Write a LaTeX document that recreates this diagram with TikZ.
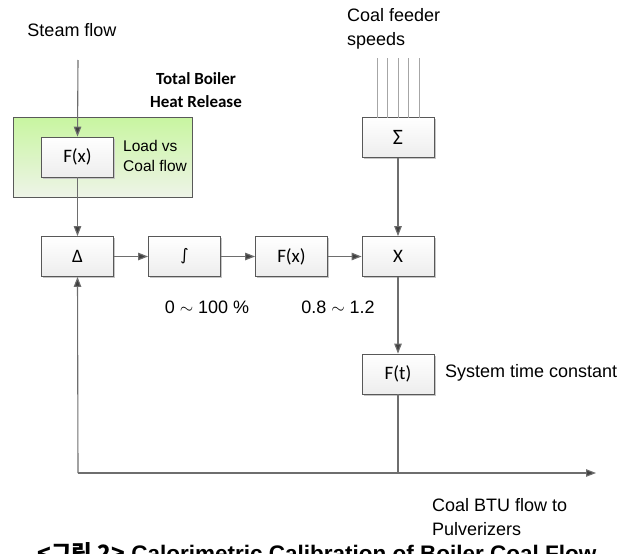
\documentclass[tikz,border=0pt]{standalone}
\usepackage{fontspec}
\setmainfont{Liberation Sans}
\newfontfamily\boxfont{Carlito}
\newfontfamily\krfont{Noto Sans CJK KR}
\usetikzlibrary{arrows.meta,shadows}
\definecolor{lineg}{HTML}{6E6E6E}
\definecolor{arrg}{HTML}{404040}
\tikzset{
  px/.style={x=1pt,y=-1pt},
  blk/.style={draw=lineg!80!black, line width=0.8pt, minimum width=72pt, minimum height=40pt,
    top color=white, bottom color=gray!14, inner sep=0pt,
    drop shadow={shadow xshift=1.5pt, shadow yshift=-1.5pt, fill=gray!45, opacity=1},
    font=\boxfont\fontsize{19}{21}\selectfont},
  lbl/.style={font=\fontsize{18}{24.5}\selectfont, align=left, inner sep=0pt, anchor=west},
  conn/.style={draw=lineg, line width=1.1pt, -{Triangle[length=10pt,width=7.5pt,fill=arrg]}},
  plain/.style={draw=lineg, line width=1.1pt},
  feed/.style={draw=gray!70, line width=0.7pt},
}
\begin{document}
\begin{tikzpicture}[px]
\useasboundingbox (0,0) rectangle (635,554);
\clip (0,0) rectangle (635,554);
% green group
\node[draw=gray!70!black, line width=0.6pt, top color={rgb,255:red,200;green,245;blue,160}, bottom color={rgb,255:red,238;green,244;blue,232},
  minimum width=179pt, minimum height=80pt, inner sep=0pt] (grp) at (102.5,157) {};
% texts
\node[lbl, anchor=center] (steam) at (72,30) {Steam flow};
\node[font=\boxfont\bfseries\fontsize{17}{23}\selectfont, align=center, inner sep=0pt] (tbhr) at (196,90) {Total Boiler\\Heat Release};
\node[lbl, anchor=north west] (cfs) at (347,8) {Coal feeder\\speeds};
% blocks
\node[blk] (fx1) at (77.5,157) {F(x)};
\node[lbl, font=\fontsize{15.5}{20}\selectfont] (load) at (123,156) {Load vs\\Coal flow};
\node[blk] (delta) at (77.5,256.5) {Δ};
\node[blk] (integ) at (184.5,256.5) {\fontspec{DejaVu Sans}\fontsize{16}{18}\selectfont ∫};
\node[blk] (fx2) at (291.5,256.5) {F(x)};
\node[blk] (mult) at (398,256.5) {X};
\node[blk, font=\boxfont\fontsize{22}{24}\selectfont] (sigma) at (398,137.5) {Σ};
\node[blk] (ft) at (398,374) {F(t)};
\node[lbl] (stc) at (445,373) {System time constant};
\node[lbl, anchor=center] (r1) at (207,307) {0 $\sim$ 100 \%};
\node[lbl, anchor=center] (r2) at (338,307) {0.8 $\sim$ 1.2};
\node[lbl, anchor=north west] (btu) at (432,498) {Coal BTU flow to\\Pulverizers};
% coordinates
\coordinate (steamtop) at (78,60);
\coordinate (corner) at (78,473);
\coordinate (junc) at (398,473);
\coordinate (outend) at (596,473);
% connectors
\draw[conn] (steamtop) -- (fx1.north);
\draw[conn] (fx1.south) -- (delta.north);
\draw[conn] (delta) -- (integ);
\draw[conn] (integ) -- (fx2);
\draw[conn] (fx2) -- (mult);
\draw[conn] (sigma.south) -- (mult.north);
\draw[conn] (mult.south) -- (ft.north);
\draw[plain] (ft.south) -- (junc);
\draw[conn] (corner) -- (delta.south);
\draw[conn] (corner) -- (outend);
% feeder lines
\foreach \xx in {377,387.5,398,408.5,419}
  \draw[feed] (\xx,58) -- (\xx,117.5);
% caption (clipped at bottom edge as in the reference)
\node[font=\bfseries\fontsize{22.5}{26}\selectfont, anchor=base, inner sep=0pt] (cap) at (317,561)
  {{\krfont\bfseries <그림 2>} Calorimetric Calibration of Boiler Coal Flow};
\end{tikzpicture}
\end{document}
